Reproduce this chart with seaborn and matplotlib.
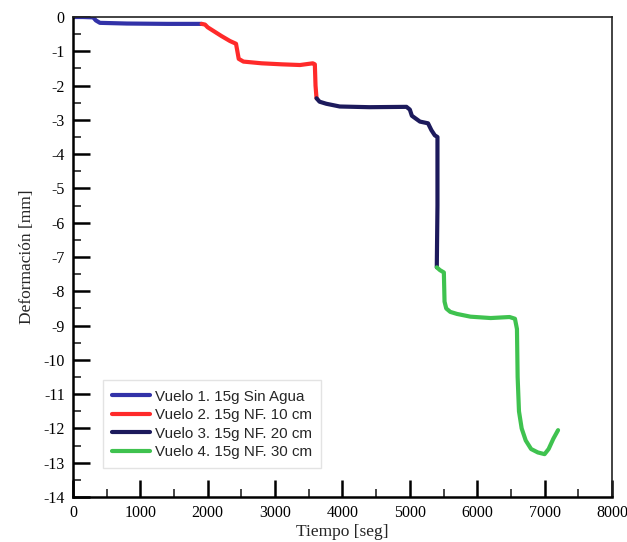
import matplotlib
matplotlib.use('Agg')
import matplotlib.pyplot as plt
import pandas as pd
import seaborn as sns
from matplotlib.ticker import MultipleLocator

# Data
labels = ['Vuelo 1. 15g Sin Agua', 'Vuelo 2. 15g NF. 10 cm',
          'Vuelo 3. 15g NF. 20 cm', 'Vuelo 4. 15g NF. 30 cm']
colors = ['#3232a8', '#ff2a2a', '#1c1a5c', '#3fc24f']

t1 = [0, 150, 300, 340, 400, 800, 1400, 1910]
d1 = [0, 0, -0.01, -0.1, -0.17, -0.19, -0.2, -0.2]

t2 = [1910, 1960, 2000, 2080, 2200, 2330, 2420, 2440, 2460, 2530, 2800,
      3100, 3370, 3560, 3590, 3600, 3615]
d2 = [-0.2, -0.22, -0.3, -0.4, -0.55, -0.7, -0.78, -1.0, -1.22, -1.3, -1.35,
      -1.38, -1.4, -1.35, -1.38, -2.0, -2.37]

t3 = [3615, 3660, 3760, 3960, 4400, 4950, 5000, 5030, 5150, 5270, 5320,
      5370, 5410, 5410, 5400]
d3 = [-2.37, -2.47, -2.53, -2.61, -2.63, -2.62, -2.7, -2.88, -3.05, -3.1,
      -3.3, -3.45, -3.5, -5.5, -7.3]

t4 = [5400, 5445, 5505, 5515, 5540, 5600, 5700, 5900, 6200, 6480, 6560,
      6590, 6600, 6620, 6660, 6720, 6800, 6900, 7000, 7060, 7130, 7200]
d4 = [-7.3, -7.38, -7.45, -8.3, -8.5, -8.6, -8.66, -8.74, -8.78, -8.75, -8.8,
      -9.1, -10.5, -11.5, -12.0, -12.35, -12.6, -12.7, -12.75, -12.6, -12.3,
      -12.05]

frames = []
for lab, t, d in zip(labels, [t1, t2, t3, t4], [d1, d2, d3, d4]):
    frames.append(pd.DataFrame({'Tiempo': t, 'Def': d, 'serie': lab}))
df = pd.concat(frames, ignore_index=True)

sns.set_style('white')
plt.rcParams['font.family'] = ['Liberation Serif', 'DejaVu Serif']
plt.rcParams['axes.unicode_minus'] = False

fig = plt.figure(figsize=(6.27, 5.42), dpi=100)
ax = fig.add_axes([0.1164, 0.083, 0.8596, 0.8856])

sns.lineplot(data=df, x='Tiempo', y='Def', hue='serie', hue_order=labels,
             palette=dict(zip(labels, colors)), sort=False, estimator=None,
             linewidth=3, ax=ax)

ax.set_xlim(0, 8000)
ax.set_ylim(-14, 0)
ax.xaxis.set_major_locator(MultipleLocator(1000))
ax.xaxis.set_minor_locator(MultipleLocator(500))
ax.yaxis.set_major_locator(MultipleLocator(1))
ax.yaxis.set_minor_locator(MultipleLocator(0.5))
ax.tick_params(which='major', direction='in', length=12, width=1.8,
               labelsize=11.5, color='black', labelcolor='black',
               bottom=True, left=True, top=False, right=False, pad=6)
ax.tick_params(which='minor', direction='in', length=6, width=1.2,
               bottom=True, left=True, top=False, right=False)

for side in ['left', 'bottom']:
    ax.spines[side].set_linewidth(1.8)
    ax.spines[side].set_color('black')
for side in ['top', 'right']:
    ax.spines[side].set_linewidth(1.2)
    ax.spines[side].set_color('#222222')

ax.set_xlabel('Tiempo [seg]', fontsize=12.5, labelpad=2)
ax.set_ylabel('Deformación [mm]', fontsize=12.5, labelpad=6)

leg = ax.legend(loc='lower left', bbox_to_anchor=(0.0557, 0.06),
                prop={'family': 'Liberation Sans', 'size': 10.9},
                frameon=True, fancybox=False, edgecolor='#dddddd',
                handlelength=2.5, labelspacing=0.3, borderpad=0.6,
                handletextpad=0.35, borderaxespad=0)
for line in leg.get_lines():
    line.set_linewidth(3)

fig.savefig('out.png', dpi=100)
